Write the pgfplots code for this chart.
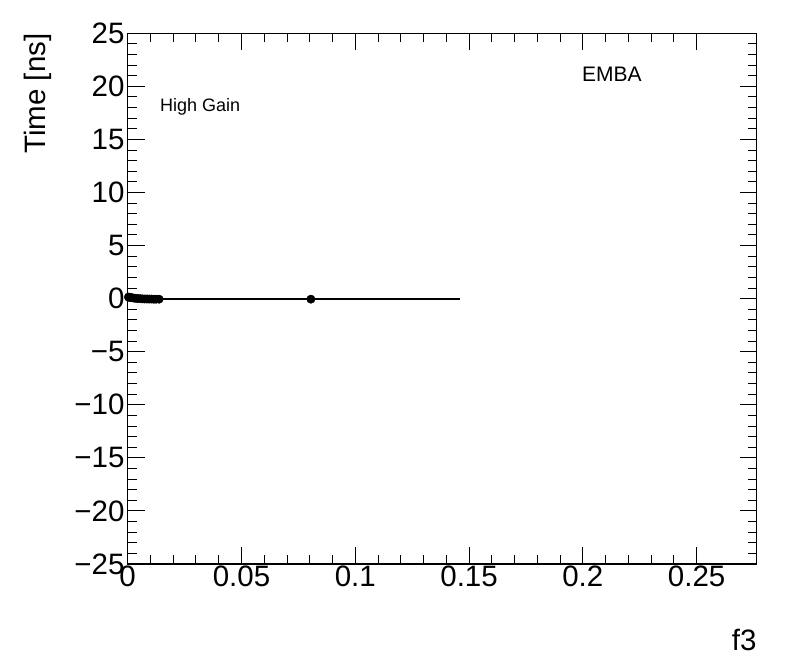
\documentclass[border=0pt]{standalone}
\usepackage{fontspec}
\setmainfont{Liberation Sans}
\usepackage{pgfplots}
\pgfplotsset{compat=1.18}
\begin{document}
\begin{tikzpicture}[x=1bp,y=1bp]
\path[use as bounding box] (-127.7,-108) rectangle (668.3,564);
\begin{axis}[
  at={(0,0)}, anchor=south west,
  scale only axis, width=629bp, height=530.7bp,
  xmin=0, xmax=0.2764, ymin=-25, ymax=25,
  xtick={0,0.05,0.1,0.15,0.2,0.25}, xticklabels={0,0.05,0.1,0.15,0.2,0.25},
  ytick={-25,-20,-15,-10,-5,0,5,10,15,20,25},
  yticklabels={−25,−20,−15,−10,−5,0,5,10,15,20,25},
  minor x tick num=4, minor y tick num=4,
  tick align=inside, tick pos=both, ticklabel pos=left,
  major tick length=17bp, minor tick length=9bp,
  every tick/.style={black, line width=1bp},
  axis line style={black, line width=1.2bp},
  tick label style={font=\fontsize{29.5bp}{31bp}\selectfont},
  xticklabel style={inner sep=2bp},
  yticklabel style={inner sep=3bp},
  xlabel={f3}, ylabel={Time [ns]},
  label style={font=\fontsize{29.5bp}{31bp}\selectfont, inner sep=0pt},
  xlabel style={at={(axis description cs:1,-0.1432)}, anchor=east},
  ylabel style={at={(axis description cs:-0.1434,1)}, anchor=east},
  clip=false,
]
\addplot[black, line width=2bp] coordinates {(0,0) (0.146,0)};
\addplot[only marks, mark=*, mark size=4.2bp, black] coordinates {
(0.0003,0.15) (0.0008,0.13) (0.0014,0.10) (0.0020,0.08) (0.0028,0.05)
(0.0036,0.03) (0.0045,0.01) (0.0055,0.0) (0.0065,-0.02) (0.0075,-0.03)
(0.0085,-0.03) (0.0095,-0.04) (0.0105,-0.04) (0.0115,-0.05) (0.0125,-0.05)
(0.0138,-0.05) (0.0805,-0.05)
};
\node[anchor=west, inner sep=0pt, font=\fontsize{18bp}{20bp}\selectfont] at (axis cs:0.0142,18.07) {High Gain};
\node[anchor=west, inner sep=0pt, font=\fontsize{21bp}{23bp}\selectfont] at (axis cs:0.1996,21.1) {EMBA};
\end{axis}
\end{tikzpicture}
\end{document}
